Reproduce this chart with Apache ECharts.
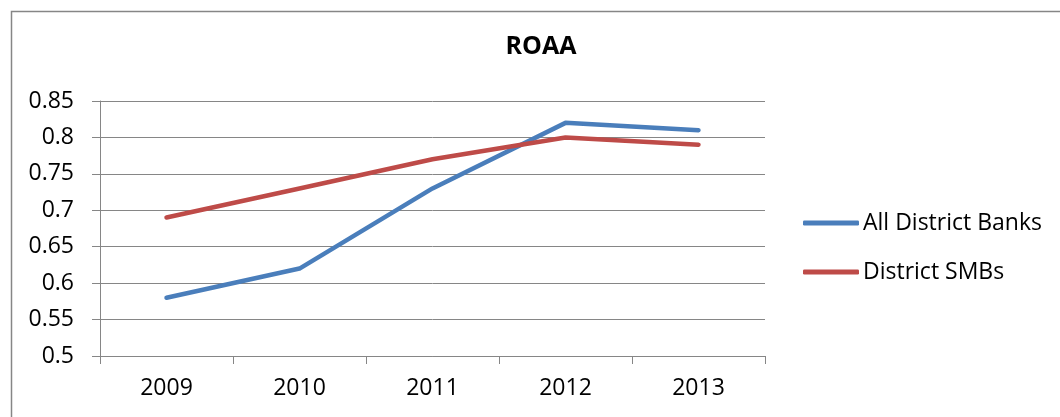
<!DOCTYPE html>
<html>
<head>
<meta charset="utf-8">
<script src="https://cdn.jsdelivr.net/npm/echarts@6/dist/echarts.min.js"></script>
<style>
html,body{margin:0;padding:0;background:#fff;}
#chart{width:1060px;height:417px;}
</style>
</head>
<body>
<div id="chart"></div>
<script>
const categories = ['2009', '2010', '2011', '2012', '2013'];
const allDistrictBanks = [0.58, 0.62, 0.73, 0.82, 0.81];
const districtSMBs = [0.69, 0.73, 0.77, 0.80, 0.79];
const seriesNames = ['All District Banks', 'District SMBs'];

const FONT = '"Open Sans", "Noto Sans", sans-serif';
const AXIS = '#868686';

const chart = echarts.init(document.getElementById('chart'), null, {renderer: 'canvas'});
chart.setOption({
  animation: false,
  backgroundColor: '#ffffff',
  title: {
    text: 'ROAA',
    left: 541,
    textAlign: 'center',
    top: 34,
    padding: 0,
    textStyle: {fontFamily: FONT, fontSize: 25, fontWeight: 'bold', color: '#000'}
  },
  graphic: [{
    type: 'rect',
    shape: {x: 11.5, y: 11.5, width: 1200, height: 600},
    style: {fill: 'none', stroke: AXIS, lineWidth: 1.5},
    silent: true
  }],
  legend: {
    orient: 'vertical',
    left: 803,
    top: 209,
    padding: 0,
    itemWidth: 56,
    itemHeight: 5,
    itemGap: 21,
    icon: 'roundRect',
    textStyle: {fontFamily: FONT, fontSize: 23, color: '#000', lineHeight: 28, padding: [0, 0, 0, -1]},
    data: seriesNames
  },
  grid: {left: 100, right: 295, top: 101, bottom: 61},
  xAxis: {
    type: 'category',
    data: categories,
    boundaryGap: true,
    axisLine: {lineStyle: {color: AXIS, width: 1}},
    axisTick: {show: true, length: 8, alignWithLabel: false, lineStyle: {color: AXIS}},
    axisLabel: {fontFamily: FONT, fontSize: 23, color: '#000', margin: 21}
  },
  yAxis: {
    type: 'value',
    min: 0.5,
    max: 0.85,
    interval: 0.05,
    axisLine: {show: true, lineStyle: {color: AXIS, width: 1}},
    axisTick: {show: true, length: 8, lineStyle: {color: AXIS}},
    splitLine: {lineStyle: {color: AXIS, width: 1}},
    axisLabel: {
      fontFamily: FONT, fontSize: 23, color: '#000', margin: 26,
      formatter: v => String(parseFloat(v.toFixed(2)))
    }
  },
  series: [
    {
      name: seriesNames[0], type: 'line', data: allDistrictBanks,
      symbol: 'none', color: '#4a7ebb',
      lineStyle: {width: 4.5, color: '#4a7ebb', cap: 'round', join: 'round'}
    },
    {
      name: seriesNames[1], type: 'line', data: districtSMBs,
      symbol: 'none', color: '#be4b48',
      lineStyle: {width: 4.5, color: '#be4b48', cap: 'round', join: 'round'}
    }
  ]
});
</script>
</body>
</html>
